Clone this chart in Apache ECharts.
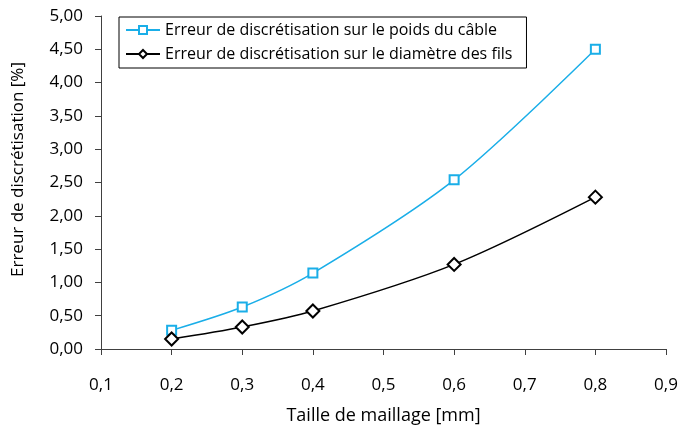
<!DOCTYPE html>
<html>
<head>
<meta charset="utf-8">
<script src="https://cdn.jsdelivr.net/npm/echarts@6/dist/echarts.min.js"></script>
<style>
  html, body { margin: 0; padding: 0; background: #fff; }
  #chart { width: 683px; height: 430px; }
</style>
</head>
<body>
<div id="chart"></div>
<script>
  var meshSizes = [0.2, 0.3, 0.4, 0.6, 0.8];
  var weightError = [0.28, 0.63, 1.14, 2.54, 4.50];
  var diameterError = [0.15, 0.33, 0.57, 1.27, 2.28];
  var weightLabel = "Erreur de discrétisation sur le poids du câble";
  var diameterLabel = "Erreur de discrétisation sur le diamètre des fils";

  function pairs(xs, ys) {
    return xs.map(function (x, i) { return [x, ys[i]]; });
  }

  function comma(value, decimals) {
    return value.toFixed(decimals).replace(".", ",");
  }

  var font = "'Open Sans', sans-serif";
  var axisColor = "#404040";

  var chart = echarts.init(document.getElementById("chart"), null, { renderer: "canvas" });
  chart.setOption({
    animation: false,
    backgroundColor: "#ffffff",
    textStyle: { fontFamily: font },
    grid: { left: 101, right: 17, top: 16, bottom: 80 },
    legend: {
      orient: "vertical",
      left: 119,
      top: 17,
      padding: [5, 14, 6, 6],
      itemGap: 8,
      itemWidth: 34,
      itemHeight: 10,
      borderColor: "#000",
      borderWidth: 1,
      backgroundColor: "#fff",
      textStyle: { fontFamily: font, fontSize: 16, color: "#000" },
      data: [weightLabel, diameterLabel]
    },
    xAxis: {
      type: "value",
      min: 0.1,
      max: 0.9,
      interval: 0.1,
      name: "Taille de maillage [mm]",
      nameLocation: "middle",
      nameGap: 58,
      nameTextStyle: { fontSize: 18, color: "#000", fontFamily: font },
      axisLine: { lineStyle: { color: axisColor } },
      axisTick: { inside: false, length: 6, lineStyle: { color: axisColor } },
      splitLine: { show: false },
      axisLabel: {
        color: "#000",
        fontSize: 17,
        margin: 28,
        formatter: function (v) { return comma(v, 1); }
      }
    },
    yAxis: {
      type: "value",
      min: 0,
      max: 5,
      interval: 0.5,
      name: "Erreur de discrétisation [%]",
      nameLocation: "middle",
      nameGap: 74,
      nameTextStyle: { fontSize: 17, color: "#000", fontFamily: font, padding: [0, 0, 0, 26] },
      axisLine: { show: true, lineStyle: { color: axisColor } },
      axisTick: { show: true, inside: false, length: 6, lineStyle: { color: axisColor } },
      splitLine: { show: false },
      axisLabel: {
        color: "#000",
        fontSize: 17,
        margin: 18,
        formatter: function (v) { return comma(v, 2); }
      }
    },
    series: [
      {
        name: weightLabel,
        type: "line",
        smooth: 0.3,
        data: pairs(meshSizes, weightError),
        symbol: "rect",
        symbolSize: 9,
        lineStyle: { color: "#1aaee8", width: 1.5 },
        itemStyle: { color: "#fff", borderColor: "#1aaee8", borderWidth: 2 }
      },
      {
        name: diameterLabel,
        type: "line",
        smooth: 0.3,
        data: pairs(meshSizes, diameterError),
        symbol: "diamond",
        symbolSize: 13,
        lineStyle: { color: "#000", width: 1.5 },
        itemStyle: { color: "#fff", borderColor: "#000", borderWidth: 2 }
      }
    ]
  });
</script>
</body>
</html>
